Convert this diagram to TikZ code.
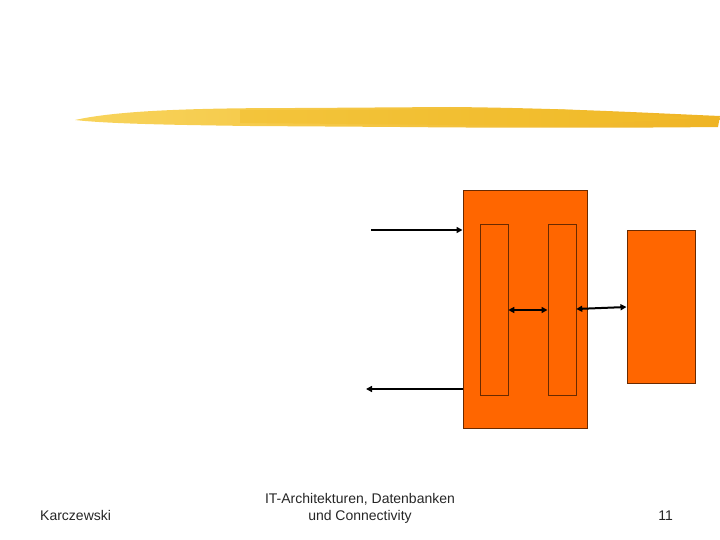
\documentclass[tikz,border=0pt]{standalone}
\usepackage{fontspec}
\setmainfont{Liberation Sans}
\usetikzlibrary{arrows.meta}
\definecolor{orng}{HTML}{FF6600}
\definecolor{edge}{HTML}{6A2A00}
\definecolor{brushA}{HTML}{F8D45C}
\definecolor{brushB}{HTML}{F2BE2A}
\definecolor{brushC}{HTML}{EFB424}
\tikzset{
  box/.style={fill=orng,draw=edge,line width=0.8pt},
  conn/.style={line width=2pt,-{Triangle[length=6pt,width=6pt]}},
  dconn/.style={line width=2pt,{Triangle[length=6pt,width=6pt]}-{Triangle[length=6pt,width=6pt]}},
  foot/.style={font=\fontsize{14}{17}\selectfont,text=black!85,inner sep=0pt}
}
\begin{document}
\begin{tikzpicture}[x=1pt,y=-1pt]
\useasboundingbox (0,0) rectangle (720,540);
% brush stroke
\shade[left color=brushA,right color=brushC]
  (75,120) .. controls (120,110) and (200,108) .. (300,108)
  -- (450,107) .. controls (560,108) and (650,113) .. (720,116)
  -- (718,127) .. controls (620,128) and (500,128) .. (400,127)
  -- (250,126) .. controls (180,125) and (110,124) .. (75,120) -- cycle;
\fill[brushB,opacity=0.5] (240,110) -- (560,109) -- (700,118) -- (560,126) -- (240,123) -- cycle;
% boxes
\node[box,minimum width=124pt,minimum height=238pt,inner sep=0pt,anchor=north west] (main) at (462.5,190) {};
\node[box,minimum width=28pt,minimum height=170pt,inner sep=0pt,anchor=north west] (inl) at (479.5,224.5) {};
\node[box,minimum width=28pt,minimum height=170pt,inner sep=0pt,anchor=north west] (inr) at (547.5,224.5) {};
\node[box,minimum width=68pt,minimum height=152pt,inner sep=0pt,anchor=north west] (ext) at (626.5,230.5) {};
% connectors
\coordinate (inS) at (371,230);
\coordinate (outE) at (366,389);
\draw[conn] (inS) -- (inS -| main.west);
\draw[conn] (outE -| main.west) -- (outE);
\draw[dconn] (inl.east |- 0,310) -- (inr.west |- 0,310);
\draw[dconn] (inr.east |- 0,309) -- (ext.west |- 0,307);
% footer
\node[foot,anchor=base west] (auth) at (40,520) {Karczewski};
\node[foot,align=center,anchor=base] (title) at (360,520) {IT-Architekturen, Datenbanken\\und Connectivity};
\node[foot,anchor=base east] (page) at (673,520) {11};
\end{tikzpicture}
\end{document}
